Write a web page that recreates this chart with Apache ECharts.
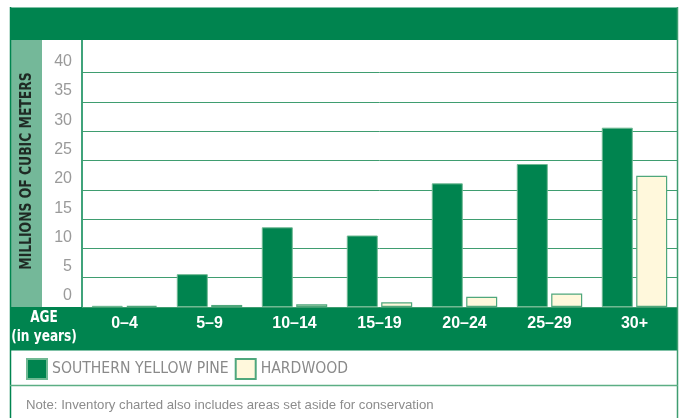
<!DOCTYPE html>
<html>
<head>
<meta charset="utf-8">
<style>
  html, body { margin: 0; padding: 0; background: #ffffff; }
  #chart { width: 683px; height: 418px; }
</style>
<script src="https://cdn.jsdelivr.net/npm/echarts@6/dist/echarts.min.js"></script>
</head>
<body>
<div id="chart"></div>
<script>
// ---- data ----
const categories = ['0–4', '5–9', '10–14', '15–19', '20–24', '25–29', '30+'];
const pineValues = [0.2, 5.6, 13.6, 12.2, 21.1, 24.4, 30.6];
const hardwoodValues = [0.2, 0.35, 0.45, 0.8, 1.75, 2.3, 22.4];
const seriesNames = ['SOUTHERN YELLOW PINE', 'HARDWOOD'];
const yMin = 0, yMax = 40, yInterval = 5;
const yAxisTitle = 'MILLIONS OF CUBIC METERS';
const xAxisTitle1 = 'AGE';
const xAxisTitle2 = '(in years)';
const noteText = 'Note: Inventory charted also includes areas set aside for conservation';

const GREEN = '#00844f';
const STRIP = '#74b899';
const CREAM = '#fff8dc';
const NARROW = '"Liberation Sans Narrow", "DejaVu Sans Condensed", "Liberation Sans", sans-serif';
const SANS = '"Liberation Sans", Arial, sans-serif';

const chart = echarts.init(document.getElementById('chart'), null, { renderer: 'canvas' });

const option = {
  backgroundColor: '#ffffff',
  animation: false,
  grid: { left: 82, right: 6, top: 72.6, bottom: 111, containLabel: false },
  legend: {
    left: 26, top: 358, padding: 0,
    itemWidth: 20, itemHeight: 20, itemGap: 6,
    icon: 'rect',
    textStyle: { fontFamily: NARROW, fontSize: 15.6, color: '#8a8a8a', padding: [0, 0, 0, 0] },
    data: seriesNames
  },
  xAxis: {
    type: 'category',
    data: categories,
    axisLine: { show: false },
    axisTick: { show: false },
    axisLabel: {
      color: '#ffffff', fontFamily: SANS, fontWeight: 'bold', fontSize: 16, margin: 9
    },
    splitLine: { show: false }
  },
  yAxis: {
    type: 'value',
    min: yMin, max: yMax, interval: yInterval,
    axisLine: { show: false },
    axisTick: { show: false },
    axisLabel: {
      color: '#9a9a9a', fontFamily: SANS, fontSize: 16, margin: 10,
      verticalAlign: 'bottom', lineHeight: 16, padding: [0, 0, 3, 0]
    },
    splitLine: { show: true, lineStyle: { color: '#3f9d70', width: 1 } }
  },
  series: [
    {
      name: seriesNames[0], type: 'bar', data: pineValues,
      barWidth: 31, barGap: '11%',
      itemStyle: { color: GREEN, borderColor: '#6fb993', borderWidth: 1 }
    },
    {
      name: seriesNames[1], type: 'bar', data: hardwoodValues,
      barWidth: 31, barGap: '11%',
      itemStyle: { color: CREAM, borderColor: '#4fa77c', borderWidth: 1.2 }
    }
  ],
  graphic: [
    // header band
    { type: 'rect', z: -5, shape: { x: 10, y: 7.5, width: 668, height: 32.5 }, style: { fill: GREEN } },
    // left light strip
    { type: 'rect', z: -5, shape: { x: 10, y: 40, width: 32, height: 267 }, style: { fill: STRIP } },
    // x band
    { type: 'rect', z: -5, shape: { x: 10, y: 307, width: 668, height: 43.5 }, style: { fill: GREEN } },
    // frame lines
    { type: 'line', z: -4, shape: { x1: 10.5, y1: 7, x2: 10.5, y2: 418 }, style: { stroke: GREEN, lineWidth: 1.5 } },
    { type: 'line', z: -4, shape: { x1: 677.5, y1: 7, x2: 677.5, y2: 418 }, style: { stroke: '#3f9d70', lineWidth: 1.5 } },
    { type: 'line', z: -4, shape: { x1: 82, y1: 40, x2: 82, y2: 307 }, style: { stroke: GREEN, lineWidth: 1.5 } },
    { type: 'line', z: -4, shape: { x1: 10, y1: 385.5, x2: 678, y2: 385.5 }, style: { stroke: '#5cae84', lineWidth: 1.5 } },
    // texts
    {
      type: 'text', z: 10, x: 27, y: 171, rotation: Math.PI / 2, scaleX: 0.86,
      style: { text: yAxisTitle, fill: '#1f2a24', font: 'bold 16px ' + NARROW, align: 'center', verticalAlign: 'middle' }
    },
    {
      type: 'text', z: 10, x: 44, y: 318, scaleX: 0.9,
      style: { text: xAxisTitle1, fill: '#ffffff', font: 'bold 15px ' + NARROW, align: 'center', verticalAlign: 'middle' }
    },
    {
      type: 'text', z: 10, x: 44, y: 337, scaleX: 0.9,
      style: { text: xAxisTitle2, fill: '#ffffff', font: 'bold 15px ' + NARROW, align: 'center', verticalAlign: 'middle' }
    },
    {
      type: 'text', z: 10, x: 26, y: 405,
      style: { text: noteText, fill: '#8c8c8c', font: '13.2px ' + SANS, align: 'left', verticalAlign: 'middle' }
    }
  ]
};

chart.setOption(option);
</script>
</body>
</html>
